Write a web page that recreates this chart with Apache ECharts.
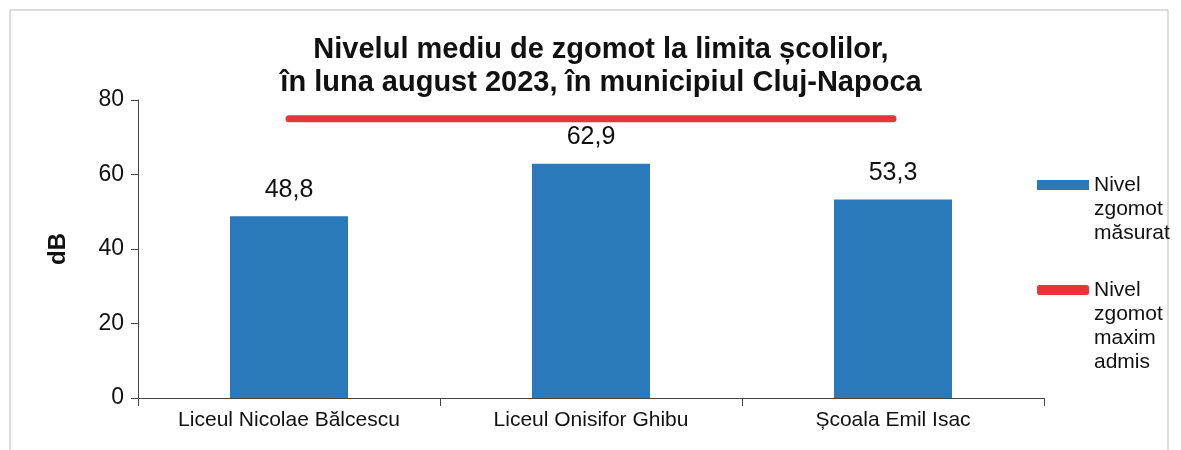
<!DOCTYPE html>
<html>
<head>
<meta charset="utf-8">
<script src="https://cdn.jsdelivr.net/npm/echarts@6/dist/echarts.min.js"></script>
<style>
  html, body { margin: 0; padding: 0; background: #fff; }
  #chart { width: 1181px; height: 450px; }
</style>
</head>
<body>
<div id="chart"></div>
<script>
// date din grafic
const scoli = ['Liceul Nicolae Bălcescu', 'Liceul Onisifor Ghibu', 'Școala Emil Isac']
const nivelMasurat = [48.8, 62.9, 53.3]
const nivelMaxim = [75, 75, 75]
const ticksY = [0, 20, 40, 60, 80]
const serieMasurat = 'Nivel zgomot măsurat'
const serieMaxim = 'Nivel zgomot maxim admis'

const chart = echarts.init(document.getElementById('chart'))

const font = 'Liberation Sans, Arial, sans-serif'

// textul legendei pe mai multe randuri, primul rand aliniat cu simbolul
const legendText = {}
legendText[serieMasurat] = '\n\nNivel\nzgomot\nmăsurat'
legendText[serieMaxim] = '\n\n\nNivel\nzgomot\nmaxim\nadmis'

chart.setOption({
  animation: false,
  textStyle: { fontFamily: font, color: '#111' },
  title: {
    text: 'Nivelul mediu de zgomot la limita școlilor,\nîn luna august 2023, în municipiul Cluj-Napoca',
    left: 596,
    top: 28,
    textAlign: 'center',
    textStyle: { fontSize: 29, fontWeight: 'bold', color: '#111', lineHeight: 33, fontFamily: font }
  },
  graphic: [{
    type: 'rect',
    shape: { x: 10, y: 10, width: 1158, height: 460 },
    style: { fill: 'none', stroke: '#bbb', lineWidth: 1 },
    silent: true
  }],
  legend: {
    orient: 'vertical',
    left: 1032,
    top: 120,
    itemWidth: 52,
    itemHeight: 10,
    itemGap: -39,
    formatter: name => legendText[name],
    textStyle: { fontSize: 21, lineHeight: 24, color: '#111', fontFamily: font },
    data: [
      { name: serieMasurat, icon: 'rect' },
      { name: serieMaxim, icon: 'roundRect' }
    ]
  },
  grid: { left: 138, right: 137, top: 100, bottom: 52 },
  xAxis: {
    type: 'category',
    data: scoli,
    axisLine: { lineStyle: { color: '#444', width: 1 } },
    axisTick: { show: true, alignWithLabel: false, length: 8, lineStyle: { color: '#444' } },
    axisLabel: { fontSize: 21, color: '#111', margin: 12, fontFamily: font }
  },
  yAxis: {
    type: 'value',
    min: ticksY[0],
    max: ticksY[ticksY.length - 1],
    interval: 20,
    name: 'dB',
    nameLocation: 'middle',
    nameGap: 68,
    nameRotate: 90,
    nameTextStyle: { fontSize: 24, fontWeight: 'bold', color: '#111', fontFamily: font },
    axisLine: { show: true, lineStyle: { color: '#444', width: 1 } },
    axisTick: { show: true, length: 7, lineStyle: { color: '#444' } },
    splitLine: { show: false },
    axisLabel: { fontSize: 23, color: '#111', margin: 14, fontFamily: font }
  },
  series: [
    {
      name: serieMasurat,
      type: 'bar',
      data: nivelMasurat,
      barWidth: 118,
      itemStyle: { color: '#2a79bb' },
      label: {
        show: true,
        position: 'top',
        distance: 14,
        fontSize: 25,
        color: '#111',
        fontFamily: font,
        formatter: p => String(p.value).replace('.', ',')
      }
    },
    {
      name: serieMaxim,
      type: 'line',
      data: nivelMaxim,
      symbol: 'none',
      lineStyle: { color: '#e8323c', width: 7, cap: 'round' },
      itemStyle: { color: '#e8323c' }
    }
  ]
})
</script>
</body>
</html>
